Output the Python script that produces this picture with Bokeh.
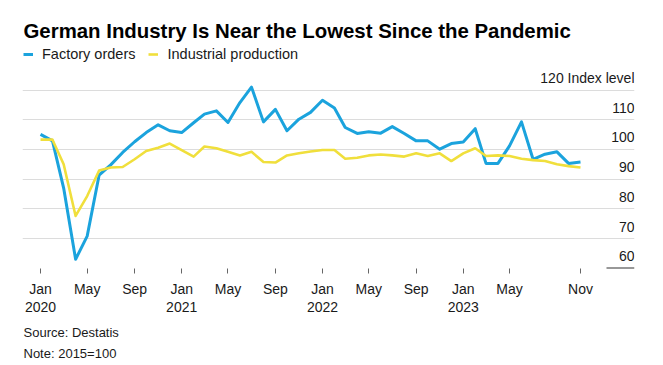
import pandas as pd
from bokeh.plotting import figure
from bokeh.models import (Range1d, FixedTicker, Grid, Label, Legend, LegendItem,
                          Title, BoxAnnotation, ColumnDataSource, DatetimeAxis)
from bokeh.embed import file_html
from bokeh.resources import INLINE

# ---- data ----
first_month = "2020-01-01"
last_month = "2023-11-01"
factory_orders = [105.1, 102.9, 87.0, 63.0, 70.8, 91.4, 94.8, 99.0, 102.6, 105.7,
                  108.3, 106.3, 105.7, 109.0, 111.9, 113.0, 109.1, 115.8, 121.0, 109.3,
                  113.5, 106.3, 110.2, 112.5, 116.6, 114.0, 107.4, 105.4, 106.0, 105.5,
                  107.7, 105.4, 102.9, 102.9, 100.1, 102.0, 102.5, 107.0, 95.3, 95.3,
                  101.2, 109.3, 96.7, 98.4, 99.2, 95.3, 95.8]
industrial_production = [103.3, 103.3, 95.0, 77.6, 84.3, 92.9, 93.9, 94.1, 96.7, 99.5,
                         100.6, 102.0, 99.8, 97.6, 101.0, 100.4, 99.2, 98.0, 99.2, 95.8,
                         95.6, 98.0, 98.7, 99.3, 99.8, 99.8, 96.9, 97.2, 98.0, 98.3,
                         98.0, 97.6, 98.7, 97.8, 98.7, 96.1, 98.7, 100.4, 97.8, 98.0,
                         97.8, 96.9, 96.4, 96.1, 95.0, 94.4, 93.9]
tick_months = ["2020-01-01", "2020-05-01", "2020-09-01", "2021-01-01", "2021-05-01",
               "2021-09-01", "2022-01-01", "2022-05-01", "2022-09-01", "2023-01-01",
               "2023-05-01", "2023-11-01"]
month_labels = ["Jan", "May", "Sep", "Jan", "May", "Sep", "Jan", "May", "Sep", "Jan",
                "May", "Nov"]
year_ticks = ["2020-01-01", "2021-01-01", "2022-01-01", "2023-01-01"]
year_labels = ["2020", "2021", "2022", "2023"]
y_ticks = [60, 70, 80, 90, 100, 110, 120]
y_labels = ["60", "70", "80", "90", "100", "110", "120 Index level"]

title_text = "German Industry Is Near the Lowest Since the Pandemic"
source_text = "Source: Destatis"
note_text = "Note: 2015=100"

BLUE = "#1ba3dd"
YELLOW = "#f0df3c"
FONT = "Liberation Sans"
TXT = "#1a1a1a"


def to_ms(s):
    return int(pd.Timestamp(s).value // 10**6)


dates = pd.date_range(first_month, last_month, freq="MS")
src = ColumnDataSource(dict(date=dates, orders=factory_orders,
                            production=industrial_production))

day_ms = 86400000
x_start = to_ms(first_month) - 46.7 * day_ms
x_end = to_ms(last_month) + 140 * day_ms

p = figure(width=647, height=362, output_backend="svg", toolbar_location=None,
           x_axis_type="datetime", y_axis_location=None,
           x_range=Range1d(x_start, x_end), y_range=Range1d(59.9, 135.7),
           min_border_left=22, min_border_right=13, min_border_top=43,
           min_border_bottom=94)
p.outline_line_color = None
p.xgrid.visible = False
p.ygrid.visible = False

p.title.text = title_text
p.title.text_font = FONT
p.title.text_font_size = "20.4px"
p.title.text_font_style = "bold"
p.title.text_color = "#000000"
p.title.align = "left"
p.title.offset = 1
p.title.standoff = 4

grid = Grid(dimension=1, ticker=FixedTicker(ticks=y_ticks[1:]),
            grid_line_color="#dcdcdc", grid_line_width=1)
p.add_layout(grid)

# x axis: month row
tick_ms = [to_ms(t) for t in tick_months]
xa = p.xaxis[0]
xa.ticker = FixedTicker(ticks=tick_ms)
xa.major_label_overrides = {ms: lab for ms, lab in zip(tick_ms, month_labels)}
xa.axis_line_color = None
xa.major_tick_in = 0
xa.major_tick_out = 5
xa.major_tick_line_color = "#666666"
xa.minor_tick_line_color = None
xa.major_label_standoff = 7
xa.major_label_text_font = FONT
xa.major_label_text_font_size = "14px"
xa.major_label_text_color = TXT

# x axis: year row
yr_ms = [to_ms(t) for t in year_ticks]
xa2 = DatetimeAxis(ticker=FixedTicker(ticks=yr_ms),
                   major_label_overrides={ms: lab for ms, lab in zip(yr_ms, year_labels)},
                   axis_line_color=None, major_tick_line_color=None,
                   minor_tick_line_color=None, major_tick_in=0, major_tick_out=0,
                   major_label_standoff=2, major_label_text_font=FONT,
                   major_label_text_font_size="14px", major_label_text_color=TXT)
p.add_layout(xa2, "below")

# baseline stub under the y labels
p.add_layout(BoxAnnotation(left=584, right=612, left_units="screen", right_units="screen",
                           bottom=y_ticks[0], top=y_ticks[0], fill_alpha=0,
                           line_color="#333333", line_alpha=1.0, line_width=1.5))

# y labels (right side, above their gridlines)
for v, lab in zip(y_ticks, y_labels):
    p.add_layout(Label(x=612, x_units="screen", y=v, text=lab, text_align="right",
                       text_baseline="alphabetic", y_offset=12, text_font=FONT,
                       text_font_size="14px", text_color=TXT))

# series
r_o = p.line(x="date", y="orders", source=src, line_color=BLUE, line_width=3,
             line_join="round")
r_p = p.line(x="date", y="production", source=src, line_color=YELLOW, line_width=2.6,
             line_join="round")

legend = Legend(items=[LegendItem(label="Factory orders", renderers=[r_o]),
                       LegendItem(label="Industrial production", renderers=[r_p])],
                orientation="horizontal", location="top_left", glyph_width=10,
                glyph_height=20, label_height=20, label_standoff=9, spacing=13,
                padding=0, margin=1, border_line_color=None,
                background_fill_alpha=0, label_text_font=FONT,
                label_text_font_size="14.5px", label_text_color=TXT)
p.add_layout(legend)

# footnotes
p.add_layout(Title(text=source_text, text_font=FONT, text_font_size="13px",
                   text_font_style="normal", text_color=TXT, align="left",
                   offset=1, standoff=17), "below")
p.add_layout(Title(text=note_text, text_font=FONT, text_font_size="13px",
                   text_font_style="normal", text_color=TXT, align="left",
                   offset=1, standoff=-9), "below")

open("out.html", "w").write(file_html(p, INLINE))
